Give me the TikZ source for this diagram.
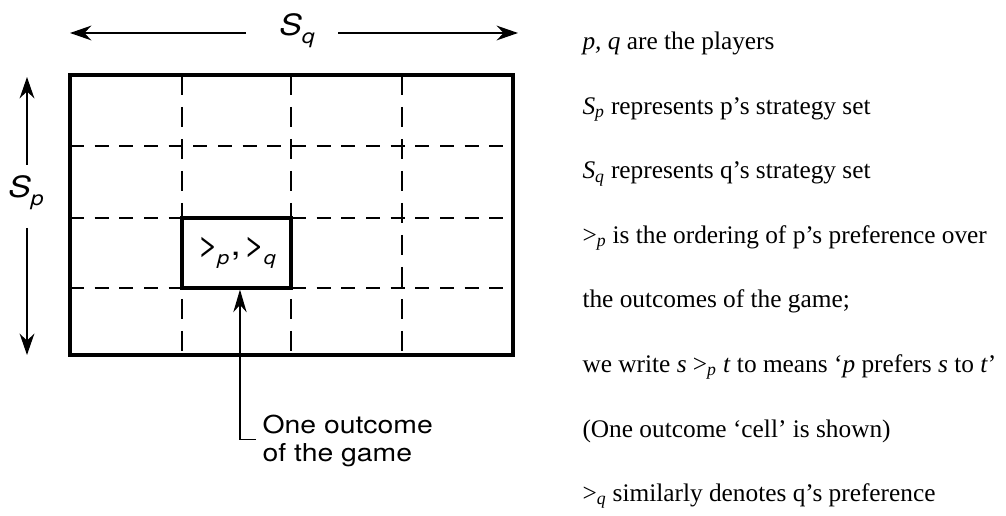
\documentclass[tikz,border=0pt]{standalone}
\usepackage{fontspec}
\setmainfont{Liberation Serif}
\newfontfamily\letterfont[FakeStretch=1.15]{TeX Gyre Heros}
\usetikzlibrary{arrows.meta}

\tikzset{every picture/.style={line width=0.75pt}}
\tikzset{
	frame/.style={line width=2.4pt},
	rowline/.style={line width=2.1pt, dash pattern={on 10.5pt off 8pt}},
	colline/.style={line width=2.1pt, dash pattern={on 15pt off 9pt}},
	axisarrow/.style={line width=1.9pt, -{Stealth[length=16pt,width=11pt]}},
	pointer/.style={line width=1pt, -{Stealth[length=17pt,width=10pt]}},
	lettering/.style={inner sep=0.75pt, font=\letterfont\fontsize{18.5}{20.5}\selectfont},
	axislabel/.style={inner sep=0.75pt, font=\letterfont\fontsize{22}{22}\selectfont},
	notes/.style={anchor=base west, inner sep=0.75pt, font=\fontsize{19}{23}\selectfont},
}
\newcommand{\sbs}[1]{\textsubscript{\textit{#1}}}
\newcommand{\lsub}[2][15]{\raisebox{-0.5ex}{\fontsize{#1}{#1}\selectfont\itshape #2}}

\begin{document}
\begin{tikzpicture}[x=0.75pt,y=0.75pt,yscale=-1,xscale=1]
				\useasboundingbox (0,0) rectangle (1006,516);
				
				%Straight Lines [id:rows] 
				\draw  [rowline]  (70,146) -- (513,146) ;
				\draw  [rowline]  (70,218) -- (513,218) ;
				\draw  [rowline]  (70,288) -- (513,288) ;
				%Straight Lines [id:cols] 
				\draw  [colline]  (182,75) -- (182,355) ;
				\draw  [colline]  (291,75) -- (291,355) ;
				\draw  [colline]  (402,75) -- (402,355) ;
				%Shape: Rectangle [id:board] 
				\draw  [frame]  (70,75) rectangle (513,355) ;
				
				% Cell Node
				\draw (236.5,253) node (cell) [frame, draw, fill=white, minimum width=81.75pt, minimum height=52.5pt, inner sep=0pt, font=\letterfont\fontsize{24}{24}\selectfont] {>\kern-1pt\lsub[14]{p}\kern1pt,\kern2pt>\kern-1pt\lsub[14]{q}};
				
				% Axis labels
				\draw (297,31) node (sq) [axislabel] {\itshape S\lsub{q}};
				\draw (26,193) node (sp) [axislabel] {\itshape S\lsub{p}};
				\coordinate (qleft) at (70,33);
				\coordinate (qright) at (518,33);
				\coordinate (qgapl) at (246,33);
				\coordinate (qgapr) at (338,33);
				\coordinate (ptop) at (27,77);
				\coordinate (pbottom) at (27,355);
				\coordinate (pgapt) at (27,165);
				\coordinate (pgapb) at (27,228);
				\draw  [axisarrow]  (qgapl) -- (qleft) ;
				\draw  [axisarrow]  (qgapr) -- (qright) ;
				\draw  [axisarrow]  (pgapt) -- (ptop) ;
				\draw  [axisarrow]  (pgapb) -- (pbottom) ;
				
				% Outcome label
				\draw (256,414) node (outcome) [anchor=north west, lettering, inner xsep=4.5pt, align=left] {One outcome\\of the game};
				\draw  [pointer]  ([yshift=-1pt]outcome.west) -| ([xshift=2.6pt]cell.south) ;
				
				% Text Node
				\draw (581,50) node (l1) [notes] {\textit{p, q} are the players};
				% Text Node
				\draw (581,114.5) node (l2) [notes] {\textit{S}\sbs{p} represents p’s strategy set};
				% Text Node
				\draw (581,179) node (l3) [notes] {\textit{S}\sbs{q} represents q’s strategy set};
				% Text Node
				\draw (581,243.5) node (l4) [notes] {>\sbs{p} is the ordering of p’s preference over};
				% Text Node
				\draw (581,308) node (l5) [notes] {the outcomes of the game;};
				% Text Node
				\draw (581,372.5) node (l6) [notes] {we write \textit{s} >\sbs{p} \textit{t} to means ‘\textit{p} prefers \textit{s} to \textit{t}’};
				% Text Node
				\draw (581,437) node (l7) [notes] {(One outcome ‘cell’ is shown)};
				% Text Node
				\draw (581,501.5) node (l8) [notes] {>\sbs{q} similarly denotes q’s preference};
\end{tikzpicture}
\end{document}
